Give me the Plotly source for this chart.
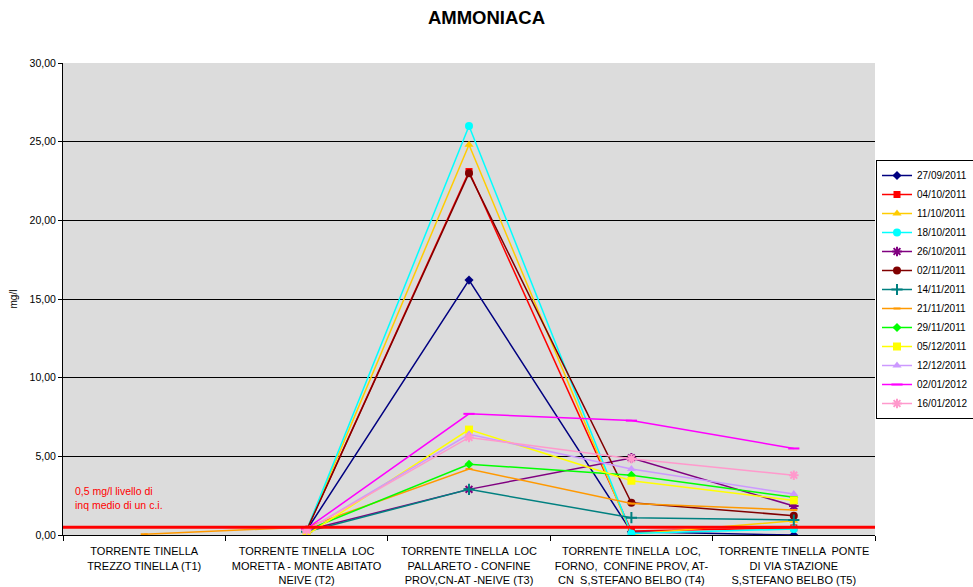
import plotly.graph_objects as go

# Sampling stations along the Torrente Tinella
stations = [
    "TORRENTE TINELLA<br>TREZZO TINELLA (T1)",
    "TORRENTE TINELLA  LOC<br>MORETTA - MONTE ABITATO<br>NEIVE (T2)",
    "TORRENTE TINELLA  LOC<br>PALLARETO - CONFINE<br>PROV,CN-AT -NEIVE (T3)",
    "TORRENTE TINELLA  LOC,<br>FORNO,  CONFINE PROV, AT-<br>CN  S,STEFANO BELBO (T4)",
    "TORRENTE TINELLA  PONTE<br>DI VIA STAZIONE<br>S,STEFANO BELBO (T5)",
]

# Ammonia concentration (mg/l) per sampling date; None = not sampled
d_27_09_2011 = [None, 0.3, 16.2, 0.2, 0.0]
d_04_10_2011 = [None, 0.3, 23.1, 0.25, 0.45]
d_11_10_2011 = [None, 0.3, 24.8, 0.05, 0.9]
d_18_10_2011 = [None, 0.3, 26.0, 0.1, 0.38]
d_26_10_2011 = [None, 0.3, 2.9, 4.9, 1.84]
d_02_11_2011 = [None, 0.3, 23.0, 2.05, 1.23]
d_14_11_2011 = [None, 0.2, 2.9, 1.1, 0.95]
d_21_11_2011 = [0.05, 0.5, 4.2, 2.0, 1.59]
d_29_11_2011 = [None, 0.3, 4.5, 3.8, 2.4]
d_05_12_2011 = [None, 0.0, 6.7, 3.45, 2.2]
d_12_12_2011 = [None, 0.3, 6.4, 4.2, 2.6]
d_02_01_2012 = [None, 0.4, 7.7, 7.27, 5.5]
d_16_01_2012 = [None, 0.3, 6.2, 4.85, 3.8]

threshold = 0.5
threshold_label = "0,5 mg/l livello di<br>inq medio di un c.i."

series = [
    ("27/09/2011", d_27_09_2011, "#000080", "diamond", 7),
    ("04/10/2011", d_04_10_2011, "#FF0000", "square", 7),
    ("11/10/2011", d_11_10_2011, "#FFCC00", "triangle-up", 8),
    ("18/10/2011", d_18_10_2011, "#00FFFF", "circle", 8),
    ("26/10/2011", d_26_10_2011, "#800080", "asterisk-open", 8),
    ("02/11/2011", d_02_11_2011, "#800000", "circle", 8),
    ("14/11/2011", d_14_11_2011, "#008080", "cross-thin-open", 8),
    ("21/11/2011", d_21_11_2011, "#FF9900", "line-ew-open", 5),
    ("29/11/2011", d_29_11_2011, "#00FF00", "diamond", 7),
    ("05/12/2011", d_05_12_2011, "#FFFF00", "square", 8),
    ("12/12/2011", d_12_12_2011, "#CC99FF", "triangle-up", 8),
    ("02/01/2012", d_02_01_2012, "#FF00FF", "line-ew-open", 8),
    ("16/01/2012", d_16_01_2012, "#FF99CC", "asterisk-open", 8),
]

fig = go.Figure()
for name, values, color, symbol, size in series:
    fig.add_trace(go.Scatter(
        x=stations, y=values, name=name, mode="lines+markers",
        line=dict(color=color, width=1.5),
        marker=dict(color=color, symbol=symbol, size=size,
                    line=dict(color=color, width=2 if "open" in symbol else 0)),
    ))

# Reference level line across the plot
fig.add_shape(type="line", xref="paper", x0=0, x1=1, yref="y",
              y0=threshold, y1=threshold, line=dict(color="#FF0000", width=3))
fig.add_annotation(xref="paper", x=0.012, yref="y", y=2.35, text=threshold_label,
                   showarrow=False, xanchor="left", yanchor="middle", align="left",
                   font=dict(color="#FF0000", size=10.5))

fig.update_layout(
    width=973, height=587,
    margin=dict(l=63, r=98, t=63, b=52, autoexpand=False),
    paper_bgcolor="white", plot_bgcolor="#DCDCDC",
    font=dict(family="Liberation Sans, Arial, sans-serif", size=10, color="black"),
    separators=",.",
    title=dict(text="<b>AMMONIACA</b>", x=0.5, xanchor="center", y=0.97, yanchor="middle",
               font=dict(size=18.5, color="black")),
    showlegend=True,
    legend=dict(x=(876 - 63) / 812, xanchor="left", y=(535 - 160) / 472, yanchor="top",
                bgcolor="white", bordercolor="black", borderwidth=1,
                font=dict(size=10), itemwidth=30, tracegroupgap=0),
    xaxis=dict(type="category", range=[-0.5, 4.5], showline=True, linecolor="black",
               linewidth=1, ticks="outside", tickson="boundaries", ticklen=5,
               tickcolor="black", showgrid=False, tickfont=dict(size=11),
               tickangle=0, ticklabelstandoff=6),
    yaxis=dict(range=[0, 30], dtick=5, tickformat=".2f", showline=True, linecolor="black",
               linewidth=1, ticks="outside", ticklen=4, tickcolor="black",
               showgrid=True, gridcolor="black", gridwidth=1, zeroline=False,
               title=dict(text="mg/l", font=dict(size=10), standoff=10),
               tickfont=dict(size=10.5)),
)

fig.write_html("out.html")
